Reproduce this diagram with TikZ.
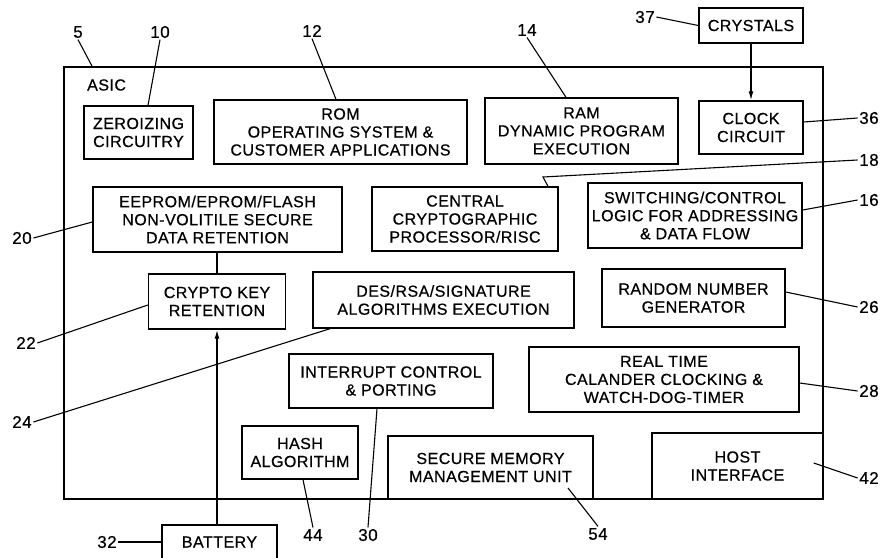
\documentclass[tikz,border=0pt]{standalone}
\usepackage{fontspec}
\setmainfont{Liberation Sans}[LetterSpace=3,FakeBold=0.6]
\usetikzlibrary{arrows.meta,positioning}
\begin{document}
\begin{tikzpicture}[x=1pt,y=-1pt,every node/.style={font=\fontsize{16}{18}\selectfont,align=center,inner sep=0pt},box/.style={draw,line width=1.4pt},frame/.style={draw,line width=1.8pt,minimum width=759pt,minimum height=432pt},lbl/.style={inner sep=1.5pt,font=\fontsize{17}{18}\selectfont},lead/.style={line width=1.1pt},arrow/.style={-{Latex[length=9pt,width=5pt]},line width=1.4pt}]
\useasboundingbox (0,0) rectangle (886,557);
\node[frame] (asic) at (443.5,283) {};
\node[anchor=west] (asiclbl) at (87,85) {ASIC};
\node[box,minimum width=109pt,minimum height=53pt] (zero) at (138.5,132.5) {ZEROIZING\\CIRCUITRY};
\node[box,minimum width=253pt,minimum height=64pt] (rom) at (340.5,132) {ROM\\OPERATING SYSTEM \&\\CUSTOMER APPLICATIONS};
\node[box,minimum width=193pt,minimum height=66pt] (ram) at (581.5,131) {RAM\\DYNAMIC PROGRAM\\EXECUTION};
\node[box,minimum width=104pt,minimum height=35pt] (cryst) at (751,25.5) {CRYSTALS};
\node[box,minimum width=104pt,minimum height=53pt] (clock) at (751,127.5) {CLOCK\\CIRCUIT};
\node[box,minimum width=249pt,minimum height=65pt] (eeprom) at (217.5,219.5) {EEPROM/EPROM/FLASH\\NON-VOLITILE SECURE\\DATA RETENTION};
\node[box,minimum width=186pt,minimum height=64pt] (cpu) at (465,219) {CENTRAL\\CRYPTOGRAPHIC\\PROCESSOR/RISC};
\node[box,minimum width=214pt,minimum height=65pt] (switch) at (695,215.5) {SWITCHING/CONTROL\\LOGIC FOR ADDRESSING\\\& DATA FLOW};
\node[box,minimum width=137pt,minimum height=55pt] (key) at (217,301.5) {CRYPTO KEY\\RETENTION};
\node[box,minimum width=261pt,minimum height=56pt] (des) at (443.5,300) {DES/RSA/SIGNATURE\\ALGORITHMS EXECUTION};
\node[box,minimum width=183pt,minimum height=58pt] (rng) at (693.5,298) {RANDOM NUMBER\\GENERATOR};
\node[box,minimum width=204pt,minimum height=54pt] (irq) at (391,381) {INTERRUPT CONTROL\\\& PORTING};
\node[box,minimum width=270pt,minimum height=65pt] (rtc) at (664,379.5) {REAL TIME\\CALANDER CLOCKING \&\\WATCH-DOG-TIMER};
\node[box,minimum width=116pt,minimum height=53pt] (hash) at (300,452.5) {HASH\\ALGORITHM};
\node[box,minimum width=205pt,minimum height=63pt] (smmu) at (490.5,467.5) {SECURE MEMORY\\MANAGEMENT UNIT};
\node[box,minimum width=171pt,minimum height=66pt] (host) at (737.5,466) {HOST\\INTERFACE};
\node[box,minimum width=115pt,minimum height=34pt] (batt) at (219.5,542) {BATTERY};
\node[lbl] (l5) at (78,32) {5};
\node[lbl] (l10) at (160,32) {10};
\node[lbl] (l12) at (312,31) {12};
\node[lbl] (l14) at (527,30) {14};
\node[lbl] (l37) at (645,17) {37};
\node[lbl] (l36) at (869,118) {36};
\node[lbl] (l18) at (869,160) {18};
\node[lbl] (l16) at (869,200) {16};
\node[lbl] (l26) at (869,307) {26};
\node[lbl] (l28) at (869,391) {28};
\node[lbl] (l42) at (869,478) {42};
\node[lbl] (l54) at (598,534) {54};
\node[lbl] (l30) at (368,535) {30};
\node[lbl] (l44) at (313,535) {44};
\node[lbl] (l32) at (107,542) {32};
\node[lbl] (l20) at (22,238) {20};
\node[lbl] (l22) at (26,343) {22};
\node[lbl] (l24) at (22,422) {24};
\coordinate (k18) at (543,177);
\draw[arrow] (cryst)--(clock);
\draw[line width=1.4pt] (eeprom.south -| key.north)--(key.north);
\draw[arrow] (batt.north -| key.south)--(key.south);
\draw[lead] (l5.south)--([xshift=-351.5pt]asic.north);\draw[lead] (l10.south)--([xshift=9.5pt]zero.north);
\draw[lead] (l12.south)--([xshift=-4.5pt]rom.north);\draw[lead] (l14.south)--([xshift=-15.5pt]ram.north);
\draw[lead] (l37.east)--(cryst.west);\draw[lead] (l36.west)--([yshift=5.5pt]clock.east);
\draw[lead] (l18.west)--(k18)--([xshift=83pt]cpu.north);\draw[lead] (l16.west)--([yshift=5.5pt]switch.east);
\draw[lead] (l26.west)--([yshift=6pt]rng.east);\draw[lead] (l28.west)--([yshift=-3.5pt]rtc.east);
\draw[lead] (l42.west)--([xshift=-10pt,yshift=3pt]host.east);\draw[lead] (l54.north)--([xshift=77.5pt,yshift=-20.5pt]smmu.center);
\draw[lead] (l30.north)--([xshift=-14pt]irq.south);\draw[lead] (l44.north)--([xshift=3pt]hash.south);
\draw[lead] (l32.east)--(batt.west);\draw[lead] (l20.east)--([yshift=-2.5pt]eeprom.west);
\draw[lead] (l22.east)--([yshift=-3.5pt]key.west);\draw[lead] (l24.east)--([xshift=-113.5pt]des.south);
\end{tikzpicture}
\end{document}
